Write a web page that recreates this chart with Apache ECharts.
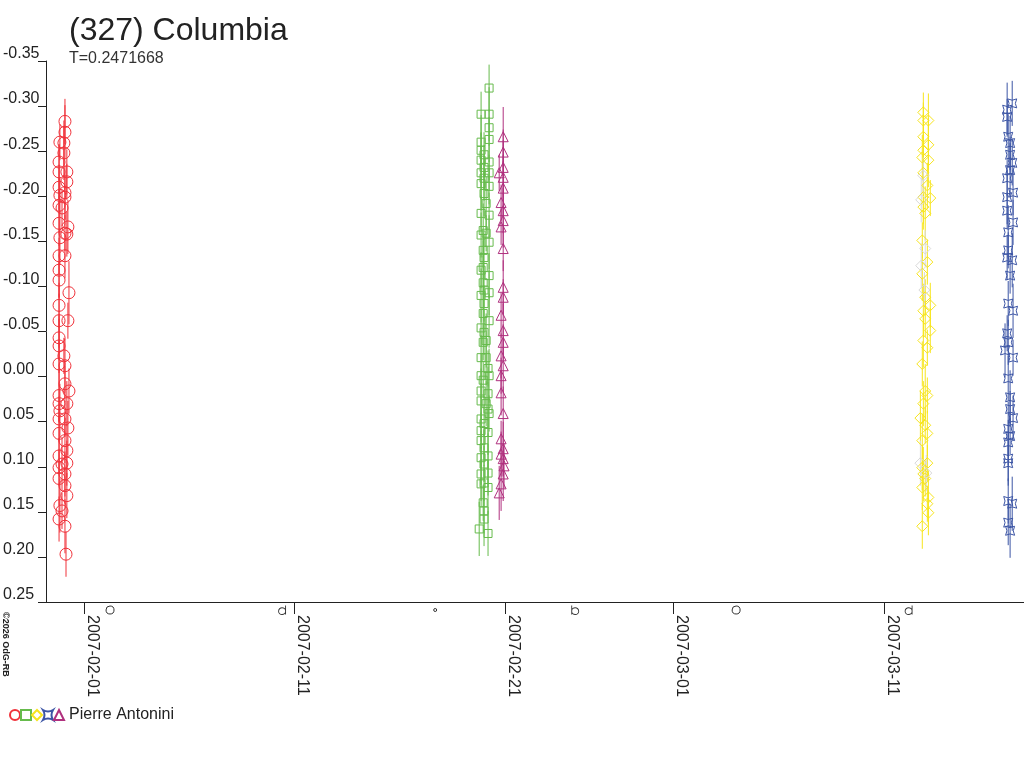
<!DOCTYPE html>
<html>
<head>
<meta charset="utf-8">
<title>(327) Columbia</title>
<script src="https://cdn.jsdelivr.net/npm/echarts@6/dist/echarts.min.js"></script>
<style>
  html, body { margin: 0; padding: 0; background: #fff; }
  #chart { width: 1024px; height: 768px; }
</style>
</head>
<body>
<div id="chart"></div>
<script>
// time in JD - 2454000, relative magnitude, error
const JD0 = 2454000;
const xRangeJD = [130.70, 177.14];
const tickDates = ['2007-02-01', '2007-02-11', '2007-02-21', '2007-03-01', '2007-03-11'];
const magTicks = { min: -0.35, max: 0.25, step: 0.05 };

const redObs = [
  [131.60,-0.283,0.025],[131.60,-0.271,0.030],[131.36,-0.260,0.020],[131.55,-0.259,0.025],
  [131.55,-0.248,0.030],[131.32,-0.238,0.020],[131.69,-0.227,0.025],[131.32,-0.227,0.030],
  [131.69,-0.216,0.020],[131.32,-0.210,0.025],[131.60,-0.204,0.030],[131.36,-0.201,0.020],
  [131.60,-0.199,0.025],[131.32,-0.190,0.030],[131.46,-0.187,0.020],[131.32,-0.170,0.025],
  [131.74,-0.166,0.030],[131.60,-0.159,0.020],[131.69,-0.158,0.025],[131.36,-0.154,0.030],
  [131.32,-0.134,0.020],[131.60,-0.134,0.025],[131.32,-0.118,0.030],[131.32,-0.107,0.020],
  [131.79,-0.093,0.035],[131.32,-0.079,0.025],[131.32,-0.062,0.030],[131.74,-0.062,0.020],
  [131.32,-0.043,0.025],[131.32,-0.034,0.030],[131.55,-0.023,0.020],[131.32,-0.014,0.025],
  [131.60,-0.012,0.030],[131.60,0.008,0.020],[131.79,0.016,0.025],[131.32,0.021,0.030],
  [131.32,0.030,0.020],[131.69,0.030,0.025],[131.36,0.038,0.030],[131.60,0.047,0.020],
  [131.32,0.047,0.025],[131.74,0.057,0.030],[131.32,0.063,0.020],[131.60,0.071,0.025],
  [131.69,0.082,0.030],[131.32,0.088,0.020],[131.69,0.096,0.025],[131.46,0.097,0.030],
  [131.32,0.101,0.020],[131.60,0.108,0.025],[131.32,0.113,0.030],[131.60,0.121,0.020],
  [131.69,0.132,0.025],[131.36,0.143,0.030],[131.46,0.149,0.020],[131.32,0.158,0.025],
  [131.60,0.166,0.030],[131.65,0.197,0.025]
];

const greenObs = [
  [151.74,-0.320,0.026],[151.36,-0.291,0.025],[151.74,-0.291,0.030],[151.74,-0.276,0.020],
  [151.74,-0.263,0.025],[151.36,-0.260,0.030],[151.36,-0.251,0.020],[151.50,-0.246,0.025],
  [151.36,-0.240,0.030],[151.74,-0.238,0.020],[151.50,-0.232,0.025],[151.36,-0.226,0.030],
  [151.74,-0.226,0.020],[151.50,-0.220,0.025],[151.36,-0.214,0.030],[151.74,-0.211,0.020],
  [151.50,-0.203,0.025],[151.60,-0.192,0.030],[151.36,-0.181,0.020],[151.74,-0.179,0.025],
  [151.46,-0.162,0.030],[151.60,-0.159,0.020],[151.36,-0.157,0.025],[151.74,-0.149,0.030],
  [151.46,-0.140,0.020],[151.50,-0.132,0.025],[151.46,-0.121,0.030],[151.36,-0.118,0.020],
  [151.74,-0.112,0.025],[151.46,-0.104,0.030],[151.50,-0.096,0.020],[151.74,-0.093,0.025],
  [151.36,-0.090,0.030],[151.50,-0.081,0.020],[151.46,-0.070,0.025],[151.74,-0.062,0.030],
  [151.36,-0.054,0.020],[151.50,-0.049,0.025],[151.60,-0.040,0.030],[151.46,-0.038,0.020],
  [151.36,-0.021,0.025],[151.60,-0.021,0.030],[151.69,-0.009,0.020],[151.36,-0.001,0.025],
  [151.74,-0.001,0.030],[151.46,0.004,0.020],[151.36,0.016,0.025],[151.69,0.019,0.030],
  [151.36,0.027,0.020],[151.60,0.030,0.025],[151.69,0.036,0.030],[151.74,0.041,0.020],
  [151.36,0.047,0.025],[151.50,0.052,0.030],[151.36,0.060,0.020],[151.69,0.062,0.025],
  [151.36,0.071,0.030],[151.50,0.079,0.020],[151.69,0.088,0.025],[151.36,0.090,0.030],
  [151.50,0.097,0.020],[151.69,0.107,0.025],[151.36,0.108,0.030],[151.50,0.118,0.020],
  [151.36,0.119,0.025],[151.69,0.123,0.030],[151.46,0.140,0.020],[151.50,0.149,0.025],
  [151.50,0.158,0.030],[151.27,0.169,0.030],[151.69,0.174,0.025]
];

const purpleObs = [
  [152.41,-0.266,0.033],[152.41,-0.249,0.025],[152.41,-0.232,0.030],[152.22,-0.226,0.020],
  [152.41,-0.221,0.025],[152.41,-0.209,0.030],[152.31,-0.193,0.020],[152.41,-0.184,0.025],
  [152.41,-0.173,0.030],[152.31,-0.166,0.020],[152.41,-0.142,0.025],[152.41,-0.099,0.030],
  [152.41,-0.088,0.020],[152.31,-0.068,0.025],[152.41,-0.051,0.030],[152.41,-0.038,0.020],
  [152.31,-0.023,0.025],[152.41,-0.012,0.030],[152.31,-0.001,0.020],[152.31,0.018,0.025],
  [152.41,0.041,0.030],[152.31,0.069,0.020],[152.31,0.086,0.025],[152.41,0.080,0.030],
  [152.41,0.091,0.020],[152.45,0.099,0.025],[152.41,0.108,0.030],[152.31,0.119,0.030],
  [152.22,0.129,0.030]
];

const yellowObs = [
  [172.36,-0.293,0.022],[172.60,-0.284,0.030],[172.36,-0.284,0.020],[172.36,-0.266,0.025],
  [172.60,-0.257,0.030],[172.36,-0.251,0.020],[172.31,-0.243,0.025],[172.60,-0.240,0.030],
  [172.36,-0.226,0.020],[172.55,-0.212,0.025],[172.36,-0.199,0.030],[172.69,-0.198,0.020],
  [172.36,-0.188,0.025],[172.45,-0.181,0.030],[172.31,-0.151,0.020],[172.55,-0.127,0.025],
  [172.31,-0.114,0.030],[172.45,-0.088,0.020],[172.69,-0.079,0.025],[172.36,-0.073,0.030],
  [172.45,-0.064,0.020],[172.69,-0.051,0.025],[172.36,-0.040,0.030],[172.55,-0.032,0.020],
  [172.31,-0.014,0.025],[172.45,0.016,0.030],[172.55,0.021,0.020],[172.36,0.030,0.025],
  [172.22,0.046,0.030],[172.45,0.054,0.020],[172.55,0.063,0.025],[172.31,0.071,0.030],
  [172.55,0.096,0.020],[172.31,0.101,0.025],[172.36,0.108,0.030],[172.45,0.113,0.020],
  [172.31,0.123,0.025],[172.60,0.134,0.030],[172.55,0.141,0.020],[172.60,0.151,0.025],
  [172.31,0.166,0.025]
];

const grayObs = [
  [172.36,-0.223,0.020],[172.26,-0.196,0.025],[172.45,-0.142,0.020],[172.26,-0.123,0.025],
  [172.41,-0.096,0.020],[172.22,0.096,0.025],[172.50,0.107,0.020]
];

const blueObs = [
  [176.58,-0.303,0.025],[176.34,-0.296,0.030],[176.34,-0.288,0.020],[176.39,-0.266,0.025],
  [176.48,-0.259,0.030],[176.48,-0.246,0.020],[176.58,-0.237,0.025],[176.48,-0.229,0.030],
  [176.34,-0.220,0.020],[176.62,-0.204,0.025],[176.34,-0.199,0.030],[176.34,-0.184,0.020],
  [176.62,-0.171,0.025],[176.39,-0.160,0.030],[176.39,-0.140,0.020],[176.34,-0.132,0.025],
  [176.58,-0.129,0.030],[176.48,-0.112,0.020],[176.39,-0.081,0.025],[176.62,-0.073,0.030],
  [176.34,-0.048,0.020],[176.39,-0.038,0.025],[176.24,-0.029,0.030],[176.62,-0.021,0.020],
  [176.39,0.002,0.025],[176.48,0.023,0.030],[176.48,0.036,0.020],[176.62,0.046,0.025],
  [176.39,0.058,0.030],[176.48,0.066,0.020],[176.39,0.073,0.025],[176.39,0.091,0.030],
  [176.39,0.096,0.020],[176.39,0.138,0.025],[176.58,0.141,0.030],[176.39,0.162,0.025],
  [176.48,0.171,0.030]
];

// moon phases (JD - 2454000)
const moonJD = [133.74, 141.91, 149.18, 155.83, 163.47, 171.66];
const moonPhase = ['full', 'last', 'new', 'first', 'full', 'last'];

const observer = 'Pierre Antonini';

window.addEventListener('load', function () {
  let chart = echarts.init(document.getElementById('chart'));
  const font = "'Liberation Sans', Arial, sans-serif";

  function jdToMs(jd) { return (jd - 2440587.5) * 86400000; }
  function toPoints(obs) { return obs.map(o => [jdToMs(JD0 + o[0]), o[1], o[2]]); }
  function pad(n) { return n < 10 ? '0' + n : '' + n; }
  function fmtDate(ms) {
    let d = new Date(ms);
    return d.getUTCFullYear() + '-' + pad(d.getUTCMonth() + 1) + '-' + pad(d.getUTCDate());
  }
  const tickMs = tickDates.map(s => Date.parse(s + 'T00:00:00Z'));

  const starPath = 'path://M0,0 Q5,3 10,0 Q7,5 10,10 Q5,7 0,10 Q3,5 0,0 Z';
  const groups = [
    { name: 'S1', obs: redObs, color: '#f0323a', symbol: 'circle', size: 12 },
    { name: 'S2', obs: greenObs, color: '#66bb4c', symbol: 'rect', size: 8 },
    { name: 'S3', obs: yellowObs, color: '#f7e51c', symbol: 'diamond', size: 11 },
    { name: 'S4', obs: blueObs, color: '#3c55a5', symbol: starPath, size: 9 },
    { name: 'S5', obs: purpleObs, color: '#b0307e', symbol: 'triangle', size: 10 },
    { name: 'S6', obs: grayObs, color: '#d9d9d9', symbol: 'diamond', size: 11 }
  ];

  let series = [];
  groups.forEach(g => {
    let pts = toPoints(g.obs);
    series.push({
      type: 'custom',
      silent: true,
      z: 1,
      encode: { x: 0, y: 1 },
      data: pts,
      renderItem: function (params, api) {
        let x = api.value(0), m = api.value(1), e = api.value(2);
        let p1 = api.coord([x, m - e]), p2 = api.coord([x, m + e]);
        return {
          type: 'line',
          shape: { x1: p1[0], y1: p1[1], x2: p2[0], y2: p2[1] },
          style: { stroke: g.color, lineWidth: 1 }
        };
      }
    });
    series.push({
      name: g.name,
      type: 'scatter',
      z: 2,
      symbol: g.symbol,
      symbolSize: g.size,
      data: pts,
      itemStyle: { color: 'rgba(0,0,0,0)', borderColor: g.color, borderWidth: 1, opacity: 1 }
    });
  });

  const moonSymbols = {
    full: 'path://M4,0 A4,4 0 1 1 3.99,0 Z',
    new: 'path://M2,0 A2,2 0 1 1 1.99,0 Z',
    last: 'path://M6,0 L6,8 M6,5 A3,3 0 1 0 6,5.01',
    first: 'path://M0,0 L0,8 M0,5 A3,3 0 1 1 0,5.01'
  };
  const moonSizes = { full: 8, new: 3, last: [7, 9], first: [7, 9] };
  series.push({
    type: 'scatter',
    silent: true,
    clip: false,
    z: 3,
    data: moonJD.map((jd, i) => ({
      value: [jdToMs(JD0 + jd), magTicks.max],
      symbol: moonSymbols[moonPhase[i]],
      symbolSize: moonSizes[moonPhase[i]]
    })),
    symbolOffset: [0, 8],
    itemStyle: { color: 'rgba(0,0,0,0)', borderColor: '#333', borderWidth: 1, opacity: 1 }
  });

  let option = {
    backgroundColor: '#fff',
    animation: false,
    textStyle: { fontFamily: font },
    title: {
      text: '(327) Columbia',
      subtext: 'T=0.2471668',
      left: 64,
      top: 10,
      itemGap: 4,
      textStyle: { fontSize: 32, lineHeight: 32, fontWeight: 'normal', color: '#222', fontFamily: font },
      subtextStyle: { fontSize: 16, lineHeight: 16, color: '#333', fontFamily: font }
    },
    grid: { left: 44, right: 0, top: 61, bottom: 166 },
    legend: {
      left: 4,
      top: 702,
      itemWidth: 10,
      itemHeight: 10,
      itemGap: -1,
      data: ['S1', 'S2', 'S3', 'S4', 'S5'],
      formatter: n => n === 'S5' ? observer : '',
      textStyle: { fontSize: 16, color: '#222', fontFamily: font },
      selectedMode: false
    },
    xAxis: {
      type: 'value',
      min: jdToMs(JD0 + xRangeJD[0]),
      max: jdToMs(JD0 + xRangeJD[1]),
      axisLine: { onZero: false, lineStyle: { color: '#222' } },
      axisTick: { length: 12, customValues: tickMs, lineStyle: { color: '#222' } },
      axisLabel: {
        customValues: tickMs,
        rotate: -90,
        margin: 13,
        fontSize: 16,
        color: '#222',
        verticalAlign: 'bottom',
        formatter: v => fmtDate(v)
      },
      splitLine: { show: false }
    },
    yAxis: {
      type: 'value',
      inverse: true,
      min: magTicks.min,
      max: magTicks.max,
      interval: magTicks.step,
      axisLine: { show: true, lineStyle: { color: '#222' } },
      axisTick: { show: true, length: 8, lineStyle: { color: '#222' } },
      axisLabel: {
        align: 'left',
        verticalAlign: 'bottom',
        lineHeight: 14,
        margin: 43,
        fontSize: 16,
        color: '#222',
        formatter: v => (Math.abs(v) < 1e-9 ? 0 : v).toFixed(2)
      },
      splitLine: { show: false }
    },
    graphic: [{
      type: 'text',
      x: 10,
      y: 612,
      rotation: -Math.PI / 2,
      style: { text: '©2026 OdG-RB', fontSize: 9, fill: '#222', fontFamily: font, fontWeight: 'bold' }
    }],
    series: series
  };

  chart.setOption(option);
});
</script>
</body>
</html>
